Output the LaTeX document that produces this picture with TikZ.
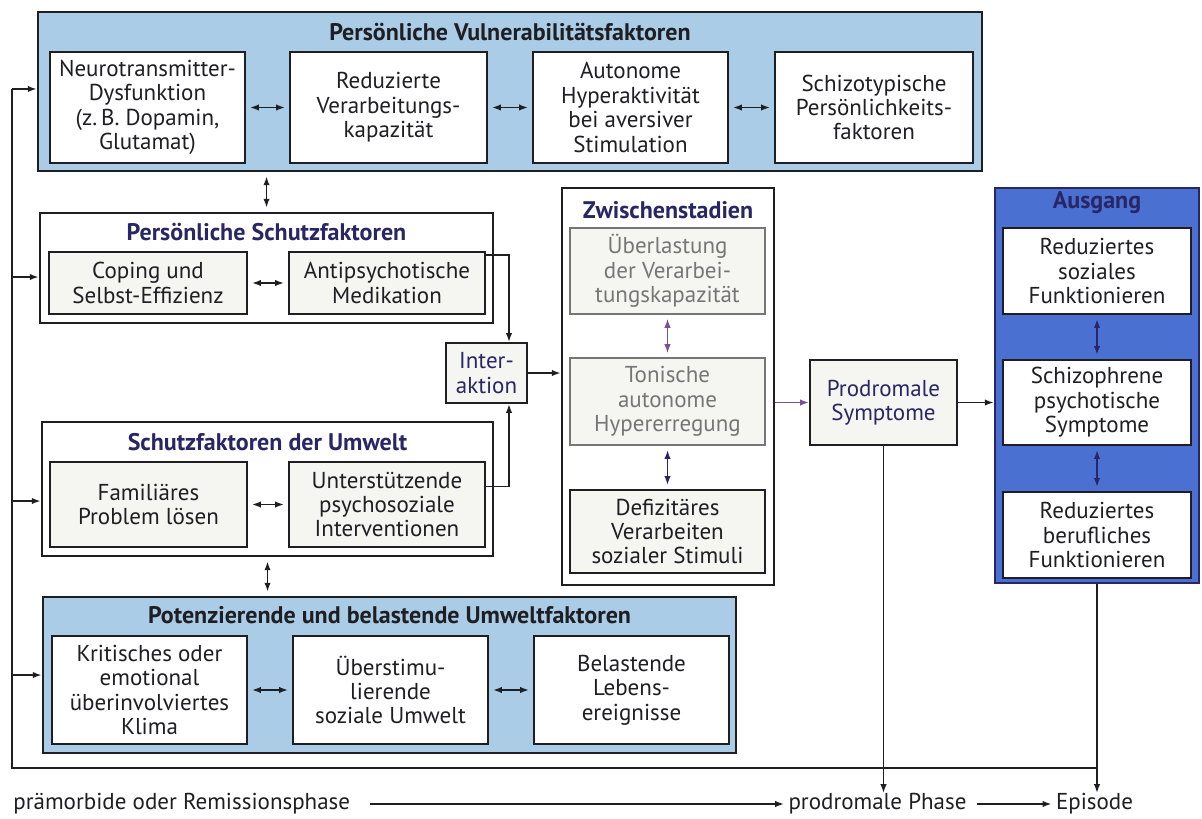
\documentclass[tikz,border=0pt]{standalone}
\usepackage{fontspec}
\setmainfont{PT Sans}
\usetikzlibrary{arrows.meta}
\definecolor{lblue}{RGB}{170,204,230}
\definecolor{dblue}{RGB}{74,112,210}
\definecolor{navy}{RGB}{40,38,100}
\definecolor{ink}{RGB}{30,30,35}
\definecolor{pale}{RGB}{245,245,241}
\definecolor{fade}{RGB}{118,118,118}
\definecolor{violet}{RGB}{120,80,150}
\begin{document}
\begin{tikzpicture}[x=0.5pt,y=-0.5pt,
  txt/.style={font=\fontsize{11.5}{12.2}\selectfont, text=ink, align=center, inner sep=0pt},
  grp/.style={draw=ink, line width=1.2pt, inner sep=0pt},
  ibox/.style={txt, draw=ink, line width=0.9pt, fill=white},
  gbox/.style={ibox, fill=pale},
  ttl/.style={font=\bfseries\fontsize{12}{13}\selectfont, text=ink, inner sep=0pt},
  con/.style={draw=ink, line width=0.95pt},
  arr/.style={con, -{Latex[length=4.5pt,width=3.2pt]}},
  darr/.style={con, {Latex[length=4.5pt,width=3.2pt]}-{Latex[length=4.5pt,width=3.2pt]}, shorten <=2pt, shorten >=2pt},
  btxt/.style={font=\fontsize{11.5}{13}\selectfont, text=ink, inner sep=0pt},
]
\path[use as bounding box] (0,0) rectangle (1202,818);

% Vulnerabilitaet
\node[grp, fill=lblue, minimum width=472pt, minimum height=79.5pt] (vul) at (510,91.5) {};
\node[ttl] (vult) at (510,32) {Persönliche Vulnerabilitätsfaktoren};
\node[ibox, minimum width=97.5pt, minimum height=55.5pt] (v1) at (147.5,107.5) {Neurotransmitter-\\Dysfunktion\\(z.\,B. Dopamin,\\Glutamat)};
\node[ibox, minimum width=98.5pt, minimum height=55.5pt] (v2) at (388.5,107.5) {Reduzierte\\Verarbeitungs-\\kapazität};
\node[ibox, minimum width=97.5pt, minimum height=55.5pt] (v3) at (630.5,107.5) {Autonome\\Hyperaktivität\\bei aversiver\\Stimulation};
\node[ibox, minimum width=99pt, minimum height=55.5pt] (v4) at (874,107.5) {Schizotypische\\Persönlichkeits-\\faktoren};

% Persoenliche Schutzfaktoren
\node[grp, fill=white, minimum width=226.5pt, minimum height=55pt] (ps) at (266.5,268) {};
\node[ttl, text=navy] (pst) at (266.5,232) {Persönliche Schutzfaktoren};
\node[gbox, minimum width=99pt, minimum height=31pt] (ps1) at (148,283) {Coping und\\Selbst-Effizienz};
\node[gbox, minimum width=98pt, minimum height=31pt] (ps2) at (387,283) {Antipsychotische\\Medikation};

% Schutzfaktoren der Umwelt
\node[grp, fill=white, minimum width=225.5pt, minimum height=67pt] (us) at (267.5,489) {};
\node[ttl, text=navy] (ust) at (267.5,442) {Schutzfaktoren der Umwelt};
\node[gbox, minimum width=98.5pt, minimum height=42.5pt] (us1) at (148.5,504.5) {Familiäres\\Problem lösen};
\node[gbox, minimum width=98pt, minimum height=42.5pt] (us2) at (387,504.5) {Unterstützende\\psychosoziale\\Interventionen};

% Potenzierende
\node[grp, fill=lblue, minimum width=346.5pt, minimum height=78pt] (pe) at (389.5,675) {};
\node[ttl] (pet) at (389.5,615) {Potenzierende und belastende Umweltfaktoren};
\node[ibox, minimum width=97.5pt, minimum height=54pt] (pe1) at (149.5,690) {Kritisches oder\\emotional\\überinvolviertes\\Klima};
\node[ibox, minimum width=97.5pt, minimum height=54pt] (pe2) at (390.5,690) {Überstimu-\\lierende\\soziale Umwelt};
\node[ibox, minimum width=97.5pt, minimum height=54pt] (pe3) at (631.5,690) {Belastende\\Lebens-\\ereignisse};

% Interaktion
\node[gbox, text=navy, minimum width=40.5pt, minimum height=30pt] (int) at (486.5,373) {Inter-\\aktion};

% Zwischenstadien
\node[grp, fill=white, minimum width=106pt, minimum height=198.5pt] (zw) at (668,386.5) {};
\node[ttl, text=navy] (zwt) at (668,210) {Zwischenstadien};
\node[gbox, draw=fade, text=fade, minimum width=97.5pt, minimum height=43pt] (zw1) at (667.5,271) {Überlastung\\der Verarbei-\\tungskapazität};
\node[gbox, draw=fade, text=fade, minimum width=97.5pt, minimum height=43.5pt] (zw2) at (667.5,401.5) {Tonische\\autonome\\Hypererregung};
\node[gbox, minimum width=97.5pt, minimum height=41.5pt] (zw3) at (667.5,531.5) {Defizitäres\\Verarbeiten\\sozialer Stimuli};

% Prodromale Symptome
\node[gbox, text=navy, minimum width=73.5pt, minimum height=42.5pt] (pro) at (883.5,402.5) {Prodromale\\Symptome};

% Ausgang
\node[grp, draw=navy, fill=dblue, minimum width=102pt, minimum height=197.5pt] (aus) at (1097,385.5) {};
\node[ttl, text=navy] (aust) at (1097,203) {Ausgang};
\node[ibox, minimum width=94pt, minimum height=43pt] (a1) at (1097,271) {Reduziertes\\soziales\\Funktionieren};
\node[ibox, minimum width=94pt, minimum height=42.5pt] (a2) at (1097,402.5) {Schizophrene\\psychotische\\Symptome};
\node[ibox, minimum width=94pt, minimum height=43pt] (a3) at (1097,535) {Reduziertes\\berufliches\\Funktionieren};

% Phasen
\node[btxt, anchor=west] (pre) at (13,804) {prämorbide oder Remissionsphase};
\node[btxt] (pha) at (877.5,804) {prodromale Phase};
\node[btxt] (epi) at (1094.5,804) {Episode};

% connectors inside groups
\draw[darr] (v1.east) -- (v2.west);
\draw[darr] (v2.east) -- (v3.west);
\draw[darr] (v3.east) -- (v4.west);
\draw[darr] (ps1.east) -- (ps2.west);
\draw[darr] (us1.east) -- (us2.west);
\draw[darr] (pe1.east) -- (pe2.west);
\draw[darr] (pe2.east) -- (pe3.west);
\draw[darr, draw=violet, line width=0.6pt] (zw1.south) -- (zw2.north);
\draw[darr, draw=navy] (zw2.south) -- (zw3.north);
\draw[darr, draw=navy] (a1.south) -- (a2.north);
\draw[darr, draw=navy] (a2.south) -- (a3.north);

% between groups
\draw[darr] (ps.north) -- (ps.north |- vul.south);
\draw[darr] (us.south) -- (us.south |- pe.north);
\coordinate (ix) at (509,0);
\draw[arr] ([yshift=14pt]ps2.east) -| (ix |- int.north);
\draw[arr] ([yshift=9pt]us2.east) -| (ix |- int.south);
\draw[arr] (int.east) -- (int.east -| zw.west);
\draw[arr, draw=violet] (zw.east |- pro.west) -- (pro.west);
\draw[arr] (pro.east) -- (pro.east -| aus.west);

% feedback line
\coordinate (L0) at (12,768);
\coordinate (Lv) at (12,89);
\coordinate (Lps) at (12,277);
\coordinate (Lus) at (12,501);
\coordinate (Lpe) at (12,675);
\draw[con] (aus.south |- L0) -- (L0) -- (Lv);
\draw[arr] (Lv) -- (Lv -| vul.west);
\draw[arr] (Lps) -- (Lps -| ps.west);
\draw[arr] (Lus) -- (Lus -| us.west);
\draw[arr] (Lpe) -- (Lpe -| pe.west);

% phases
\draw[arr] (pro.south) -- (pro.south |- pha.north);
\draw[arr] (aus.south) -- (aus.south |- epi.north);
\draw[arr] ([xshift=10pt]pre.east) -- ([xshift=-2pt]pha.west);
\draw[arr] ([xshift=5pt]pha.east) -- ([xshift=-2pt]epi.west);
\end{tikzpicture}
\end{document}
